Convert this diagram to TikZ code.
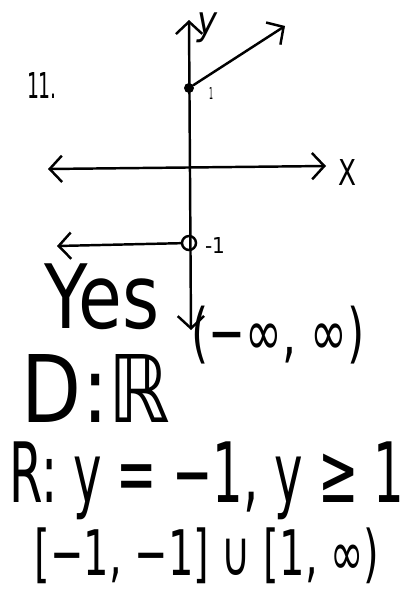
\documentclass[tikz,border=0pt]{standalone}
\usepackage{fontspec}
\setmainfont{DejaVu Sans}
\usepackage{graphicx}
\usetikzlibrary{arrows.meta}

\newlength{\px}
\setlength{\px}{0.02cm}
% text squeezed to the box it takes in the scan
\newcommand{\hand}[3]{\resizebox*{#1\px}{#2\px}{#3}}

\begin{document}
\begin{tikzpicture}[x=0.02cm, y=-0.02cm,
		>={Straight Barb[length=7pt,width=15pt]},
		pen/.style={line width=1.4pt, line cap=round},
		lbl/.style={inner sep=0pt}]
		\useasboundingbox (0,0) rectangle (409,592);
		
		% axes
		\coordinate (ytop) at (189,20);
		\coordinate (ybot) at (191,330);
		\coordinate (xl) at (48,169);
		\coordinate (xr) at (326,166);
		\draw[pen, <->] (ybot) -- (ytop);
		\draw[pen, <->] (xl) -- (xr);
		\node[lbl] (ylab) at (207,28) {\hand{20}{30}{\itshape y}};
		\node[lbl] (xlab) at (347,172) {\hand{18}{26}{X}};
		\node[lbl] (num) at (42,85) {\hand{30}{26}{11.}};
		
		% the two pieces
		\node[circle, fill, inner sep=0pt, minimum size=0.2cm] (P) at (189,88) {};
		\coordinate (Pend) at (285,26);
		\draw[pen, ->] (P) -- (Pend);
		\node[lbl] (one) at (211,93) {\hand{4}{12}{1}};
		
		\node[circle, draw, pen, inner sep=0pt, minimum size=0.28cm] (Q) at (189,243) {};
		\coordinate (Qend) at (57,246);
		\draw[pen, ->] (Q) -- (Qend);
		\node[lbl] (mone) at (215,245) {\hand{20}{16}{-1}};
		
		% answers
		\node[lbl] (yes) at (102,297) {\hand{115}{66}{Yes}};
		\node[lbl] (intv) at (278,335) {\hand{173}{58}{(−∞, ∞)}};
		\node[lbl] (dom) at (96,388) {\hand{148}{68}{D:ℝ}};
		\node[lbl] (rng) at (207,481) {\hand{395}{78}{R: y = −1, y ≥ 1}};
		\node[lbl] (rngi) at (207,556) {\hand{345}{56}{[−1, −1] ∪ [1, ∞)}};
	\end{tikzpicture}
\end{document}
